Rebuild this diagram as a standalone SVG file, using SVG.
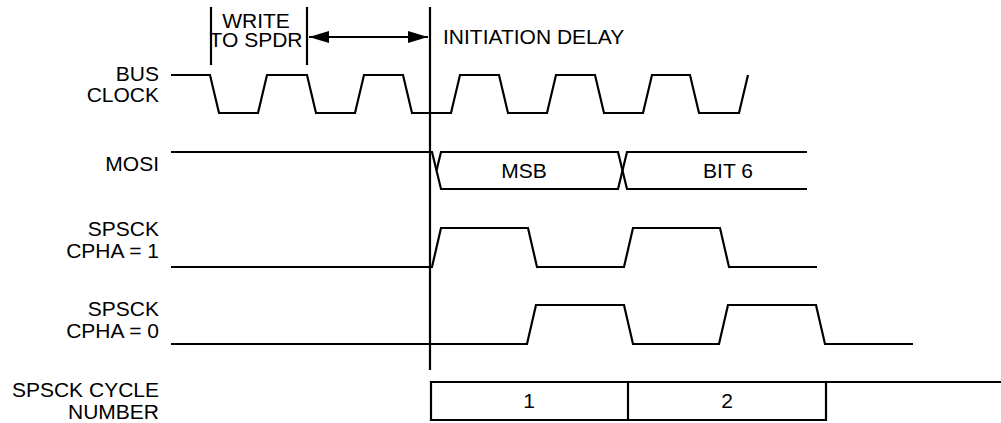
<svg xmlns="http://www.w3.org/2000/svg" width="1001" height="423" viewBox="0 0 1001 423">
<style>
.w{fill:none;stroke:#000;stroke-width:2.2;stroke-linejoin:miter}
.t{font-family:"Liberation Sans",Arial,sans-serif;font-size:21px;fill:#000}
.r{text-anchor:end}
.c{text-anchor:middle}
</style>
<defs>
<marker id="ah" viewBox="0 0 20 12" refX="20" refY="6" markerWidth="20" markerHeight="12" markerUnits="userSpaceOnUse" orient="auto-start-reverse">
<path d="M0,0 L20,6 L0,12 Z" fill="#000"/>
</marker>
</defs>
<rect width="1001" height="423" fill="#fff"/>
<g id="labels">
<text class="t r" x="159" y="81">BUS</text>
<text class="t r" x="159" y="101.5">CLOCK</text>
<text class="t r" x="159" y="171">MOSI</text>
<text class="t r" x="159" y="236">SPSCK</text>
<text class="t r" x="159" y="258">CPHA = 1</text>
<text class="t r" x="159" y="316">SPSCK</text>
<text class="t r" x="159" y="338">CPHA = 0</text>
<text class="t r" x="159" y="397">SPSCK CYCLE</text>
<text class="t r" x="159" y="419">NUMBER</text>
</g>
<g id="annotations">
<text class="t c" x="256" y="27.5">WRITE</text>
<text class="t c" x="256" y="47">TO SPDR</text>
<text class="t" x="443" y="44">INITIATION DELAY</text>
</g>
<g id="connectors">
<line class="w" x1="211" y1="7" x2="211" y2="65"/>
<line class="w" x1="307" y1="7" x2="307" y2="65"/>
<line class="w" x1="430" y1="7" x2="430" y2="370"/>
<line class="w" x1="309" y1="37" x2="428" y2="37" marker-start="url(#ah)" marker-end="url(#ah)"/>
</g>
<g id="bus-clock">
<path class="w" d="M171,75 H210 L219,113 H258 L267,75 H307 L316,113 H355 L364,75 H403 L412,113 H451 L460,75 H499 L508,113 H547 L556,75 H595 L604,113 H643 L652,75 H690 L699,113 H739 L748,75"/>
</g>
<g id="mosi">
<path class="w" d="M171,152 H432 L441,189 H618 L627,152 H807"/>
<path class="w" d="M436.5,170.5 L441,152 H618 L627,189 H807"/>
<text class="t c" x="524" y="178">MSB</text>
<text class="t c" x="728" y="178">BIT 6</text>
</g>
<g id="spsck-cpha1">
<path class="w" d="M171,267 H432 L441,228 H528 L537,267 H624 L633,228 H720 L729,267 H817"/>
</g>
<g id="spsck-cpha0">
<path class="w" d="M171,344 H527 L536,305 H624 L633,344 H719 L728,305 H816 L825,344 H913"/>
</g>
<g id="cycle-number">
<path class="w" d="M1001,382 H431 V420 H826 V382"/>
<line class="w" x1="628" y1="382" x2="628" y2="420"/>
<text class="t c" x="529" y="408">1</text>
<text class="t c" x="727" y="408">2</text>
</g>
</svg>
